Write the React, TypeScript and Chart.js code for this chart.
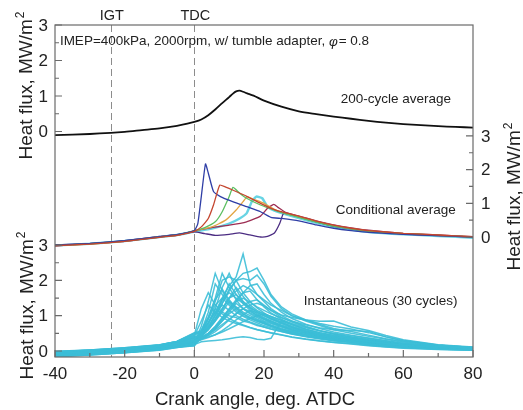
import { useEffect, useRef } from 'react';
import { Chart, registerables } from 'chart.js';
Chart.register(...registerables);

const FONT = '"Liberation Sans", Arial, sans-serif';

// ---- Top panel: 200-cycle average ----
const AVG_X = [-40, -30, -24, -20, -15, -10, -5, -2, 0, 2, 4, 6, 8, 10, 11, 12, 13, 14, 15, 17, 20, 25, 30, 35, 40, 45, 50, 55, 60, 65, 70, 75, 80];
const AVG_Y = [-0.10, -0.07, -0.04, -0.01, 0.04, 0.09, 0.16, 0.22, 0.27, 0.34, 0.46, 0.62, 0.80, 0.97, 1.06, 1.13, 1.15, 1.12, 1.08, 1.01, 0.87, 0.70, 0.57, 0.49, 0.42, 0.36, 0.30, 0.25, 0.21, 0.18, 0.15, 0.13, 0.11];

// ---- Middle panel: conditional averages ----
const COND_BLUE_X = [-40, -30, -20, -10, -5, 0, 1, 2, 3.2, 4, 5.5, 7.5, 11, 15, 19, 22, 25, 30, 35, 40, 45, 50, 60, 70, 80];
const COND_BLUE_Y = [-0.24, -0.19, -0.11, 0.01, 0.07, 0.19, 0.4, 1.2, 2.17, 1.9, 1.35, 1.2, 1.05, 0.9, 0.75, 0.58, 0.55, 0.48, 0.36, 0.26, 0.19, 0.14, 0.08, 0.04, 0.0];
const COND_RED_X = [-40, -30, -20, -10, -5, 0, 2, 4, 5.5, 7.3, 9, 11.3, 15.2, 19, 22.8, 26, 30, 35, 40, 45, 50, 60, 70, 80];
const COND_RED_Y = [-0.26, -0.21, -0.13, -0.01, 0.05, 0.17, 0.3, 0.55, 0.95, 1.54, 1.48, 1.38, 1.2, 1.0, 0.82, 0.72, 0.62, 0.47, 0.35, 0.26, 0.19, 0.11, 0.06, 0.01];
const COND_GREEN_X = [-40, -30, -20, -10, -5, 0, 3, 6, 8, 10, 11.1, 13, 15, 19, 23, 26, 30, 35, 40, 45, 50, 60, 70, 80];
const COND_GREEN_Y = [-0.25, -0.2, -0.12, 0.0, 0.06, 0.18, 0.28, 0.45, 0.75, 1.2, 1.47, 1.3, 1.15, 0.95, 0.8, 0.7, 0.58, 0.44, 0.32, 0.24, 0.17, 0.1, 0.05, 0.0];
const COND_ORANGE_X = [-40, -30, -20, -10, -5, 0, 5, 9, 12, 14, 15.2, 17, 20, 23, 26, 30, 35, 40, 45, 50, 60, 70, 80];
const COND_ORANGE_Y = [-0.25, -0.21, -0.12, 0.01, 0.06, 0.18, 0.3, 0.5, 0.8, 1.05, 1.2, 1.12, 1.0, 0.82, 0.7, 0.6, 0.46, 0.34, 0.25, 0.18, 0.1, 0.05, 0.0];
const COND_CYAN_X = [-40, -30, -20, -10, -5, 0, 5, 10, 13, 15, 16.5, 17.8, 19.5, 21, 23, 26, 30, 35, 40, 45, 50, 60, 70, 80];
const COND_CYAN_Y = [-0.25, -0.2, -0.12, 0.0, 0.06, 0.16, 0.25, 0.4, 0.55, 0.7, 1.05, 1.2, 1.15, 0.9, 0.78, 0.68, 0.56, 0.42, 0.3, 0.22, 0.15, 0.08, 0.03, -0.02];
const COND_MAROON_X = [-40, -30, -20, -10, -5, 0, 5, 10, 15, 19, 21, 22.8, 24, 26, 30, 35, 40, 45, 50, 60, 70, 80];
const COND_MAROON_Y = [-0.26, -0.2, -0.13, 0.0, 0.05, 0.18, 0.28, 0.35, 0.45, 0.62, 0.85, 0.97, 0.88, 0.74, 0.62, 0.48, 0.36, 0.27, 0.2, 0.11, 0.06, 0.01];
const COND_PURPLE_X = [-40, -30, -20, -10, -5, 0, 3, 6, 10, 13, 16, 19, 21, 23, 24.5, 25.6, 27, 30, 35, 40, 45, 50, 60, 70, 80];
const COND_PURPLE_Y = [-0.23, -0.2, -0.11, 0.02, 0.07, 0.15, 0.1, 0.05, 0.08, 0.12, 0.06, 0.0, 0.02, 0.12, 0.4, 0.7, 0.68, 0.6, 0.45, 0.32, 0.24, 0.17, 0.09, 0.04, 0.0];

// ---- Bottom panel: 30 instantaneous cycles ----
const INST_X = [-40, -30, -20, -10, -5, 0, 2, 4, 6, 8, 10, 12, 14, 16, 18, 20, 22, 25, 28, 32, 36, 40, 45, 50, 55, 60, 70, 80];
const INST_CYCLES: number[][] = [
  [-0.02, 0.02, 0.07, 0.16, 0.25, 0.45, 1.20, 1.65, 1.30, 1.10, 1.00, 0.95, 0.85, 0.80, 0.72, 0.68, 0.62, 0.55, 0.48, 0.42, 0.36, 0.30, 0.26, 0.20, 0.16, 0.12, 0.08, 0.05],
  [-0.14, -0.09, -0.02, 0.06, 0.14, 0.22, 0.70, 1.40, 2.20, 1.70, 1.40, 1.20, 1.05, 0.95, 0.88, 0.80, 0.72, 0.62, 0.55, 0.47, 0.40, 0.34, 0.28, 0.22, 0.18, 0.14, 0.09, 0.06],
  [-0.16, -0.11, -0.05, 0.03, 0.10, 0.15, 0.55, 1.10, 1.90, 1.60, 1.35, 1.15, 1.00, 0.92, 0.85, 0.78, 0.70, 0.60, 0.52, 0.45, 0.38, 0.32, 0.27, 0.21, 0.17, 0.13, 0.08, 0.04],
  [-0.04, 0.01, 0.08, 0.17, 0.27, 0.48, 0.60, 0.95, 1.50, 2.20, 1.80, 1.45, 1.20, 1.05, 0.95, 0.85, 0.78, 0.68, 0.58, 0.50, 0.42, 0.36, 0.30, 0.24, 0.19, 0.15, 0.10, 0.07],
  [-0.09, -0.04, 0.04, 0.11, 0.19, 0.30, 0.55, 0.90, 1.40, 2.00, 2.10, 2.00, 2.05, 2.00, 2.15, 1.90, 1.55, 1.20, 1.00, 0.85, 0.72, 0.60, 0.50, 0.42, 0.33, 0.25, 0.14, 0.09],
  [-0.13, -0.08, -0.01, 0.07, 0.14, 0.22, 0.45, 0.75, 1.20, 1.80, 2.20, 1.75, 1.40, 1.20, 1.05, 0.95, 0.85, 0.72, 0.62, 0.52, 0.44, 0.38, 0.31, 0.25, 0.20, 0.15, 0.09, 0.05],
  [-0.03, 0.01, 0.07, 0.15, 0.24, 0.38, 0.50, 0.80, 1.10, 1.50, 1.85, 2.10, 2.75, 1.90, 1.60, 1.40, 1.20, 1.00, 0.85, 0.70, 0.58, 0.48, 0.40, 0.32, 0.26, 0.20, 0.12, 0.08],
  [-0.10, -0.05, 0.02, 0.10, 0.18, 0.30, 0.45, 0.70, 1.00, 1.35, 1.70, 2.00, 2.20, 2.25, 2.35, 2.00, 1.60, 1.25, 1.05, 0.88, 0.75, 0.64, 0.55, 0.45, 0.35, 0.27, 0.16, 0.10],
  [-0.15, -0.10, -0.04, 0.04, 0.11, 0.15, 0.40, 0.65, 1.00, 1.45, 1.90, 1.60, 1.35, 1.15, 1.00, 0.90, 0.80, 0.70, 0.60, 0.50, 0.42, 0.36, 0.30, 0.23, 0.18, 0.14, 0.08, 0.04],
  [-0.06, -0.01, 0.06, 0.14, 0.23, 0.40, 0.45, 0.60, 0.85, 1.15, 1.50, 1.80, 1.55, 1.30, 1.15, 1.05, 0.92, 0.80, 0.68, 0.56, 0.46, 0.39, 0.32, 0.26, 0.21, 0.16, 0.10, 0.06],
  [-0.11, -0.06, 0.01, 0.09, 0.17, 0.26, 0.50, 0.90, 1.30, 1.50, 1.30, 1.10, 0.98, 0.88, 0.80, 0.72, 0.66, 0.58, 0.50, 0.42, 0.36, 0.30, 0.25, 0.19, 0.15, 0.11, 0.07, 0.04],
  [-0.01, 0.03, 0.09, 0.18, 0.27, 0.50, 0.50, 0.65, 0.90, 1.20, 1.50, 1.60, 1.40, 1.25, 1.10, 1.00, 0.90, 0.78, 0.66, 0.55, 0.46, 0.40, 0.34, 0.28, 0.22, 0.17, 0.11, 0.07],
  [-0.14, -0.09, -0.02, 0.06, 0.14, 0.20, 0.35, 0.50, 0.70, 0.95, 1.20, 1.45, 1.65, 1.70, 1.45, 1.25, 1.08, 0.90, 0.76, 0.62, 0.52, 0.44, 0.37, 0.30, 0.24, 0.18, 0.11, 0.06],
  [-0.07, -0.02, 0.04, 0.12, 0.21, 0.33, 0.38, 0.50, 0.65, 0.85, 1.05, 1.20, 1.30, 1.40, 1.45, 1.30, 1.15, 0.95, 0.82, 0.68, 0.57, 0.48, 0.40, 0.33, 0.26, 0.20, 0.13, 0.08],
  [-0.05, 0.00, 0.06, 0.14, 0.23, 0.37, 0.45, 0.65, 0.90, 1.20, 1.50, 1.70, 1.85, 1.75, 1.60, 1.45, 1.30, 1.15, 1.00, 0.88, 0.78, 0.70, 0.62, 0.52, 0.40, 0.30, 0.17, 0.10],
  [-0.12, -0.07, 0.00, 0.08, 0.16, 0.27, 0.38, 0.48, 0.60, 0.75, 0.90, 1.05, 1.20, 1.30, 1.35, 1.28, 1.15, 1.02, 0.95, 0.88, 0.84, 0.85, 0.68, 0.58, 0.44, 0.32, 0.18, 0.11],
  [-0.16, -0.11, -0.05, 0.02, 0.10, 0.18, 0.26, 0.28, 0.30, 0.32, 0.35, 0.38, 0.40, 0.38, 0.33, 0.32, 0.36, 0.85, 0.75, 0.62, 0.52, 0.45, 0.38, 0.30, 0.24, 0.18, 0.10, 0.05],
  [-0.02, 0.03, 0.09, 0.17, 0.27, 0.52, 0.55, 0.80, 1.10, 1.30, 1.15, 1.00, 0.90, 0.82, 0.75, 0.68, 0.62, 0.55, 0.48, 0.40, 0.34, 0.29, 0.24, 0.18, 0.14, 0.11, 0.06, 0.03],
  [-0.10, -0.05, 0.02, 0.10, 0.17, 0.27, 0.40, 0.60, 0.85, 1.10, 1.40, 1.25, 1.10, 1.00, 0.90, 0.82, 0.74, 0.64, 0.55, 0.46, 0.39, 0.33, 0.28, 0.22, 0.17, 0.13, 0.08, 0.05],
  [-0.13, -0.07, 0.00, 0.07, 0.15, 0.22, 0.33, 0.45, 0.62, 0.85, 1.10, 1.35, 1.20, 1.08, 0.98, 0.90, 0.82, 0.70, 0.60, 0.50, 0.42, 0.36, 0.30, 0.24, 0.19, 0.14, 0.08, 0.04],
  [-0.08, -0.03, 0.04, 0.12, 0.20, 0.31, 0.35, 0.43, 0.55, 0.70, 0.88, 1.05, 1.20, 1.12, 1.02, 0.92, 0.85, 0.74, 0.64, 0.53, 0.44, 0.38, 0.32, 0.26, 0.20, 0.15, 0.09, 0.05],
  [-0.11, -0.06, 0.01, 0.09, 0.17, 0.26, 0.32, 0.38, 0.46, 0.58, 0.72, 0.88, 1.02, 1.15, 1.08, 1.00, 0.92, 0.80, 0.68, 0.56, 0.47, 0.40, 0.34, 0.27, 0.21, 0.16, 0.09, 0.05],
  [-0.04, 0.00, 0.07, 0.15, 0.23, 0.36, 0.35, 0.40, 0.46, 0.54, 0.63, 0.73, 0.83, 0.92, 1.00, 1.05, 0.98, 0.86, 0.74, 0.60, 0.50, 0.42, 0.36, 0.29, 0.23, 0.17, 0.10, 0.06],
  [-0.06, -0.01, 0.06, 0.14, 0.23, 0.42, 0.85, 1.30, 1.10, 0.95, 0.85, 0.78, 0.72, 0.66, 0.60, 0.56, 0.52, 0.46, 0.40, 0.34, 0.29, 0.25, 0.21, 0.16, 0.12, 0.09, 0.05, 0.03],
  [-0.15, -0.09, -0.02, 0.06, 0.14, 0.22, 0.42, 0.68, 1.05, 1.45, 1.65, 1.50, 1.35, 1.22, 1.12, 1.05, 0.98, 0.88, 0.78, 0.66, 0.57, 0.50, 0.43, 0.36, 0.29, 0.22, 0.13, 0.08],
  [-0.09, -0.04, 0.03, 0.11, 0.19, 0.29, 0.42, 0.62, 0.92, 1.35, 1.75, 2.00, 1.65, 1.40, 1.22, 1.08, 0.96, 0.82, 0.70, 0.58, 0.48, 0.41, 0.34, 0.27, 0.21, 0.16, 0.09, 0.05],
  [-0.03, 0.02, 0.08, 0.16, 0.26, 0.44, 0.55, 0.95, 1.45, 1.75, 1.45, 1.22, 1.05, 0.94, 0.85, 0.77, 0.70, 0.61, 0.53, 0.45, 0.38, 0.32, 0.26, 0.20, 0.15, 0.11, 0.06, 0.03],
  [-0.12, -0.06, 0.01, 0.09, 0.17, 0.28, 0.38, 0.50, 0.68, 0.92, 1.18, 1.40, 1.50, 1.38, 1.25, 1.15, 1.05, 0.94, 0.84, 0.74, 0.66, 0.60, 0.58, 0.55, 0.40, 0.28, 0.16, 0.10],
  [-0.16, -0.10, -0.04, 0.04, 0.11, 0.17, 0.45, 0.80, 1.20, 1.05, 0.92, 0.82, 0.74, 0.67, 0.61, 0.56, 0.51, 0.45, 0.39, 0.33, 0.28, 0.24, 0.20, 0.15, 0.11, 0.08, 0.04, 0.02],
  [-0.07, -0.02, 0.05, 0.13, 0.21, 0.30, 0.36, 0.48, 0.65, 0.90, 1.15, 1.40, 1.65, 1.85, 1.90, 1.60, 1.35, 1.10, 0.92, 0.76, 0.64, 0.54, 0.45, 0.37, 0.29, 0.22, 0.13, 0.08],
];

// ---- Axes / ticks / markers ----
const X_MAJOR = [-40, -20, 0, 20, 40, 60, 80];
const X_MINOR = [-30, -10, 10, 30, 50, 70];
const Y_MAJOR = [0, 1, 2, 3];
const Y_MINOR = [0.5, 1.5, 2.5];
const MARKER_X = [-24, 0];
const MARKER_LABELS = ['IGT', 'TDC'];

const pts = (xs: number[], ys: number[]) => xs.map((x, i) => ({ x, y: ys[i] }));

const customPlugin = {
  id: 'custom',
  beforeDatasetsDraw(chart: any) {
    const { ctx, chartArea: a, scales } = chart;
    ctx.save();
    ctx.strokeStyle = '#8c8c8c';
    ctx.lineWidth = 1;
    ctx.setLineDash([7, 4]);
    MARKER_X.forEach((v) => {
      const px = Math.round(scales.x.getPixelForValue(v)) + 0.5;
      ctx.beginPath();
      ctx.moveTo(px, a.top);
      ctx.lineTo(px, a.bottom);
      ctx.stroke();
    });
    ctx.restore();
  },
  afterDatasetsDraw(chart: any) {
    const { ctx, chartArea: a, scales } = chart;
    ctx.save();
    ctx.strokeStyle = '#6a6a6a';
    ctx.lineWidth = 1.2;
    ctx.strokeRect(a.left, a.top, a.right - a.left, a.bottom - a.top);
    ctx.beginPath();
    X_MAJOR.forEach((v) => {
      const px = scales.x.getPixelForValue(v);
      ctx.moveTo(px, a.bottom);
      ctx.lineTo(px, a.bottom - 7);
    });
    X_MINOR.forEach((v) => {
      const px = scales.x.getPixelForValue(v);
      ctx.moveTo(px, a.bottom);
      ctx.lineTo(px, a.bottom - 4);
    });
    ['y1', 'y3'].forEach((id) => {
      Y_MAJOR.forEach((v) => {
        const py = scales[id].getPixelForValue(v);
        ctx.moveTo(a.left, py);
        ctx.lineTo(a.left + 7, py);
      });
      Y_MINOR.forEach((v) => {
        const py = scales[id].getPixelForValue(v);
        ctx.moveTo(a.left, py);
        ctx.lineTo(a.left + 4, py);
      });
    });
    Y_MAJOR.forEach((v) => {
      const py = scales.y2.getPixelForValue(v);
      ctx.moveTo(a.right, py);
      ctx.lineTo(a.right - 7, py);
    });
    Y_MINOR.forEach((v) => {
      const py = scales.y2.getPixelForValue(v);
      ctx.moveTo(a.right, py);
      ctx.lineTo(a.right - 4, py);
    });
    ctx.stroke();
    ctx.restore();
  },
  afterDraw(chart: any) {
    const { ctx, chartArea: a, scales } = chart;
    ctx.save();
    ctx.fillStyle = '#222';
    ctx.font = `17px ${FONT}`;
    ctx.textAlign = 'center';
    ctx.textBaseline = 'alphabetic';
    X_MAJOR.forEach((v) => {
      ctx.fillText(String(v), scales.x.getPixelForValue(v), 379);
    });
    ctx.font = `18.5px ${FONT}`;
    ctx.fillText('Crank angle, deg. ATDC', 255, 405);
    ctx.font = `17px ${FONT}`;
    ctx.textBaseline = 'middle';
    ctx.textAlign = 'right';
    ['y1', 'y3'].forEach((id) => {
      Y_MAJOR.forEach((v) => {
        ctx.fillText(String(v), a.left - 7, scales[id].getPixelForValue(v) + 1);
      });
    });
    ctx.textAlign = 'left';
    Y_MAJOR.forEach((v) => {
      ctx.fillText(String(v), a.right + 8, scales.y2.getPixelForValue(v) + 1);
    });
    const yTitle = (x: number, cy: number) => {
      ctx.save();
      ctx.translate(x, cy);
      ctx.rotate(-Math.PI / 2);
      ctx.textAlign = 'left';
      ctx.textBaseline = 'alphabetic';
      ctx.font = `19px ${FONT}`;
      const main = 'Heat flux, MW/m';
      const w1 = ctx.measureText(main).width;
      ctx.font = `12px ${FONT}`;
      const w2 = ctx.measureText('2').width;
      const start = -(w1 + w2) / 2;
      ctx.font = `19px ${FONT}`;
      ctx.fillText(main, start, 0);
      ctx.font = `12px ${FONT}`;
      ctx.fillText('2', start + w1 + 1, -8);
      ctx.restore();
    };
    yTitle(32, 86);
    yTitle(33, 306);
    yTitle(520, 197);
    ctx.font = `14.5px ${FONT}`;
    ctx.textAlign = 'center';
    ctx.textBaseline = 'middle';
    MARKER_X.forEach((v, i) => {
      ctx.fillText(MARKER_LABELS[i], scales.x.getPixelForValue(v) + 1, 16);
    });
    ctx.font = `13.5px ${FONT}`;
    ctx.textAlign = 'left';
    const t1 = 'IMEP=400kPa, 2000rpm, w/ tumble adapter, ';
    const ax = scales.x.getPixelForValue(-38.6);
    const ay = scales.y1.getPixelForValue(2.53);
    ctx.fillText(t1, ax, ay);
    const w = ctx.measureText(t1).width;
    ctx.font = `italic 13.5px ${FONT}`;
    ctx.fillText('\u03C6', ax + w, ay + 1);
    const wphi = ctx.measureText('\u03C6').width;
    ctx.font = `13.5px ${FONT}`;
    ctx.fillText('= 0.8', ax + w + wphi + 1, ay);
    ctx.fillText('200-cycle average', scales.x.getPixelForValue(42), scales.y1.getPixelForValue(0.92));
    ctx.fillText('Conditional average', scales.x.getPixelForValue(40.6), scales.y2.getPixelForValue(0.8));
    ctx.fillText('Instantaneous (30 cycles)', scales.x.getPixelForValue(31.4), scales.y3.getPixelForValue(1.42));
    ctx.restore();
  },
};

export default function App() {
  const ref = useRef<HTMLCanvasElement | null>(null);
  useEffect(() => {
    if (!ref.current) return;
    const inst = INST_CYCLES.map((ys) => ({
      data: pts(INST_X, ys),
      yAxisID: 'y3',
      borderColor: 'rgba(60,190,215,0.9)',
      borderWidth: 1.5,
      pointRadius: 0,
      tension: 0,
    }));
    const cond = [
      { x: COND_CYAN_X, y: COND_CYAN_Y, c: '#68d4e4', w: 2.4 },
      { x: COND_PURPLE_X, y: COND_PURPLE_Y, c: '#4b2c82', w: 1.3 },
      { x: COND_MAROON_X, y: COND_MAROON_Y, c: '#9c2c52', w: 1.3 },
      { x: COND_ORANGE_X, y: COND_ORANGE_Y, c: '#e2a443', w: 1.3 },
      { x: COND_GREEN_X, y: COND_GREEN_Y, c: '#5cbf62', w: 1.3 },
      { x: COND_BLUE_X, y: COND_BLUE_Y, c: '#2f3ea6', w: 1.3 },
      { x: COND_RED_X, y: COND_RED_Y, c: '#c4462f', w: 1.3 },
    ].map((s) => ({
      data: pts(s.x, s.y),
      yAxisID: 'y2',
      borderColor: s.c,
      borderWidth: s.w,
      pointRadius: 0,
      tension: 0.15,
    }));
    const avg = {
      data: pts(AVG_X, AVG_Y),
      yAxisID: 'y1',
      borderColor: '#111',
      borderWidth: 1.8,
      pointRadius: 0,
      tension: 0.3,
    };
    // Chart.js paints the last dataset first, so reverse to get bottom-to-top order
    const datasets = [...inst, ...cond, avg].reverse();
    const chart = new Chart(ref.current, {
      type: 'line',
      data: { datasets: datasets as any },
      options: {
        animation: false,
        responsive: false,
        events: [],
        layout: { padding: { left: 55, top: 25, right: 50, bottom: 53 } },
        plugins: { legend: { display: false }, tooltip: { enabled: false } },
        scales: {
          x: { type: 'linear', min: -40, max: 80, display: false },
          y1: { type: 'linear', min: -6.35, max: 3.0, display: false },
          y2: { type: 'linear', min: -3.56, max: 6.29, display: false },
          y3: { type: 'linear', min: -0.17, max: 9.235, display: false },
        },
      },
      plugins: [customPlugin],
    });
    return () => chart.destroy();
  }, []);
  return (
    <div style={{ position: 'fixed', left: 0, top: 0, width: 523, height: 410, background: '#fff' }}>
      <canvas ref={ref} width={523} height={410} style={{ width: 523, height: 410 }} />
    </div>
  );
}
